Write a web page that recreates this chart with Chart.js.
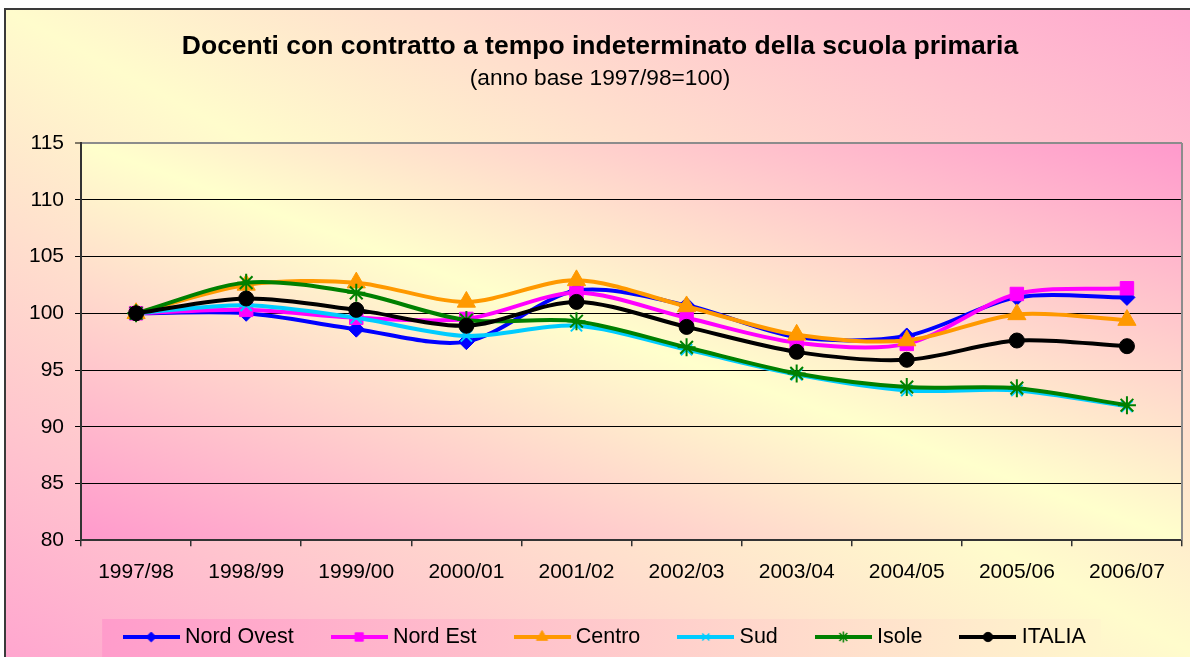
<!DOCTYPE html>
<html lang="it">
<head>
    <meta charset="UTF-8"/>
    <title>Docenti con contratto a tempo indeterminato della scuola primaria</title>
    <script src="https://cdn.jsdelivr.net/npm/chart.js"></script>
    <style>
        html, body {
            margin: 0;
            height: 100%;
            overflow: hidden;
            background: #ffffff;
        }

        #frame {
            position: absolute;
            left: 4px;
            top: 8px;
            width: 1200px;
            height: 660px;
            border: 2px solid #3a3a3a;
        }

        canvas {
            display: block;
        }
    </style>
</head>
<body>
<div id="frame">
    <canvas id="chart" width="1200" height="650"></canvas>
</div>

<script>
    const years = ['1997/98', '1998/99', '1999/00', '2000/01', '2001/02',
        '2002/03', '2003/04', '2004/05', '2005/06', '2006/07'];

    const nordOvest = [100, 100.0, 98.6, 97.5, 102.0, 100.7, 97.9, 98.0, 101.4, 101.4];
    const nordEst = [100, 100.3, 99.6, 99.5, 101.8, 99.6, 97.4, 97.3, 101.7, 102.2];
    const centro = [100, 102.5, 102.7, 101.0, 102.9, 100.6, 98.1, 97.6, 99.9, 99.4];
    const sud = [100, 100.7, 99.6, 98.0, 98.9, 96.8, 94.6, 93.2, 93.2, 91.8];
    const isole = [100, 102.7, 101.8, 99.4, 99.3, 97.0, 94.7, 93.5, 93.4, 91.9];
    const italia = [100, 101.3, 100.3, 98.9, 101.0, 98.8, 96.6, 95.9, 97.6, 97.1];

    const yMin = 80, yMax = 115, yStep = 5;

    const FONT = "'Liberation Sans', Arial, sans-serif";
    const PINK = '#ff99cc';
    const CREAM = '#ffffcc';

    // name, values, colour, marker, marker radius
    const series = [
        ['Nord Ovest', nordOvest, '#0000ff', 'rectRot', 8],
        ['Nord Est', nordEst, '#ff00ff', 'rect', 9.5],
        ['Centro', centro, '#ff9900', 'triangle', 10.5],
        ['Sud', sud, '#00ccff', 'crossRot', 8],
        ['Isole', isole, '#008000', 'star', 9],
        ['ITALIA', italia, '#000000', 'circle', 7.5]
    ];

    const crossLike = s => s === 'crossRot' || s === 'star';

    // small picture for the legend: line with the marker in the middle
    function legendIcon(color, style, radius) {
        const c = document.createElement('canvas');
        c.width = 57;
        c.height = 20;
        const ctx = c.getContext('2d');
        ctx.strokeStyle = color;
        ctx.fillStyle = color;
        ctx.lineWidth = 4;
        ctx.beginPath();
        ctx.moveTo(0, 10);
        ctx.lineTo(57, 10);
        ctx.stroke();
        ctx.lineWidth = crossLike(style) ? 1.5 : 1;
        Chart.helpers.drawPoint(ctx, {
            pointStyle: style,
            radius: radius * 0.62,
            rotation: 0,
            borderWidth: ctx.lineWidth
        }, 28.5, 10);
        return c;
    }

    function diagFill(ctx, x, y, w, h, edge, mid) {
        ctx.save();
        ctx.translate(x, y);
        ctx.scale(w, h);
        const g = ctx.createLinearGradient(0, 1, 1, 0);
        g.addColorStop(0, edge);
        g.addColorStop(0.5, mid);
        g.addColorStop(1, edge);
        ctx.fillStyle = g;
        ctx.fillRect(0, 0, 1, 1);
        ctx.restore();
    }

    const backdrop = {
        id: 'backdrop',
        afterLayout(chart) {
            // legend sits a little right of centre in the original
            if (chart.legend) {
                chart.legend.left += 7;
                chart.legend.right += 7;
            }
        },
        beforeDraw(chart) {
            const {ctx, width, height, chartArea: a} = chart;
            diagFill(ctx, 0, 0, width, height, '#ffa6cf', '#fffccc');
            diagFill(ctx, a.left, a.top, a.right - a.left, a.bottom - a.top, PINK, CREAM);

            // legend box
            const hb = chart.legend && chart.legend.legendHitBoxes;
            if (hb && hb.length) {
                const first = hb[0], last = hb[hb.length - 1];
                const mid = first.top + first.height / 2;
                const left = first.left - 26;
                const right = last.left + last.width + 15;
                const g = ctx.createLinearGradient(left, 0, right, 0);
                g.addColorStop(0, '#ff9ccb');
                g.addColorStop(1, '#fff6cc');
                ctx.save();
                ctx.fillStyle = g;
                ctx.fillRect(left, mid - 18, right - left, height);
                ctx.restore();
            }
        },
        beforeDatasetsDraw(chart) {
            const {ctx, chartArea: a} = chart;
            ctx.save();
            ctx.strokeStyle = '#8c8c8c';
            ctx.lineWidth = 2;
            ctx.beginPath();
            ctx.moveTo(a.right, a.top);
            ctx.lineTo(a.right, a.bottom);
            ctx.stroke();
            ctx.restore();
        }
    };

    const datasets = series.map(([name, values, color, style, radius], i) => ({
        label: name,
        data: values,
        borderColor: color,
        backgroundColor: color,
        borderWidth: 4,
        tension: 0.3,
        pointStyle: style,
        pointRadius: radius,
        pointBorderWidth: crossLike(style) ? 2 : 1,
        pointBorderColor: color,
        pointBackgroundColor: color,
        order: series.length - 1 - i
    }));

    new Chart(document.getElementById('chart'), {
        type: 'line',
        data: {labels: years, datasets: datasets},
        plugins: [backdrop],
        options: {
            responsive: false,
            animation: false,
            events: [],
            layout: {padding: {left: 12, right: 24, top: 0, bottom: 2.25}},
            scales: {
                x: {
                    offset: true,
                    grid: {
                        offset: true,
                        drawOnChartArea: false,
                        tickLength: 6,
                        color: '#333333',
                        lineWidth: 1.5
                    },
                    border: {color: '#333333', width: 2},
                    ticks: {
                        color: '#000000',
                        padding: 13,
                        maxRotation: 0,
                        font: {family: FONT, size: 21}
                    },
                    afterFit(axis) {
                        axis.height -= 13.7;
                    }
                },
                y: {
                    min: yMin,
                    max: yMax,
                    grid: {
                        color: c => c.tick && c.tick.value === yMax ? '#8c8c8c' : '#000000',
                        lineWidth: c => c.tick && c.tick.value === yMax ? 2 : 1,
                        tickColor: '#000000',
                        tickWidth: 1,
                        tickLength: 6
                    },
                    border: {color: '#333333', width: 2},
                    ticks: {
                        stepSize: yStep,
                        color: '#000000',
                        padding: 11,
                        font: {family: FONT, size: 21}
                    }
                }
            },
            plugins: {
                title: {
                    display: true,
                    text: 'Docenti con contratto a tempo indeterminato della scuola primaria',
                    color: '#000000',
                    font: {family: FONT, size: 26.5, weight: 'bold'},
                    padding: {top: 20.3, bottom: 0}
                },
                subtitle: {
                    display: true,
                    text: '(anno base 1997/98=100)',
                    color: '#000000',
                    font: {family: FONT, size: 22.7, weight: 'normal'},
                    padding: {top: 3.3, bottom: 50.4}
                },
                legend: {
                    position: 'bottom',
                    labels: {
                        usePointStyle: true,
                        pointStyleWidth: 46,
                        padding: 42.5,
                        color: '#000000',
                        font: {family: FONT, size: 21.5},
                        generateLabels: () => series.map(([name, , color, style, radius], i) => ({
                            text: name,
                            pointStyle: legendIcon(color, style, radius),
                            fillStyle: color,
                            strokeStyle: color,
                            lineWidth: 0,
                            hidden: false,
                            datasetIndex: i
                        }))
                    }
                },
                tooltip: {enabled: false}
            }
        }
    });
</script>
</body>
</html>
